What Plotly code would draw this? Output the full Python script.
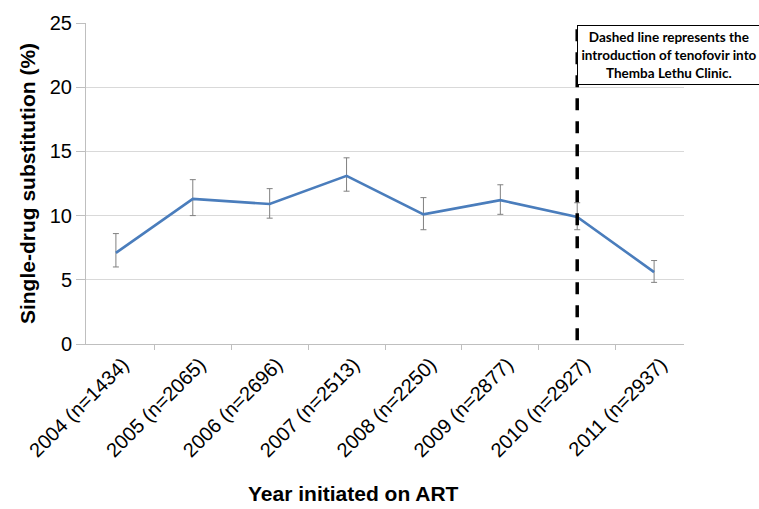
import plotly.graph_objects as go

# Year of ART initiation with cohort size
categories = [
    "2004 (n=1434)", "2005 (n=2065)", "2006 (n=2696)", "2007 (n=2513)",
    "2008 (n=2250)", "2009 (n=2877)", "2010 (n=2927)", "2011 (n=2937)",
]
# Percentage with a single-drug substitution, and its confidence limits
pct = [7.1, 11.3, 10.9, 13.1, 10.1, 11.2, 9.9, 5.6]
ci_upper = [8.6, 12.8, 12.1, 14.5, 11.4, 12.4, 11.0, 6.5]
ci_lower = [6.0, 10.0, 9.8, 11.9, 8.9, 10.1, 8.9, 4.8]

tenofovir_year = "2010 (n=2927)"
y_ticks = [0, 5, 10, 15, 20, 25]

err_plus = [u - v for u, v in zip(ci_upper, pct)]
err_minus = [v - l for v, l in zip(pct, ci_lower)]

fig = go.Figure()
fig.add_trace(go.Scatter(
    x=categories, y=pct, mode="lines",
    line=dict(color="#4a7dbc", width=2.6),
    error_y=dict(type="data", symmetric=False, array=err_plus, arrayminus=err_minus,
                 color="#808080", thickness=1, width=3),
    showlegend=False,
))

# Vertical dashed marker for the tenofovir introduction
fig.add_shape(type="line", xref="x", yref="y",
              x0=tenofovir_year, x1=tenofovir_year, y0=0.3, y1=25,
              line=dict(color="black", width=3.5, dash="12px,11px"), layer="above")

fig.add_annotation(
    xref="paper", yref="paper", x=0.821, y=0.994, xanchor="left", yanchor="top",
    text="Dashed line represents the<br>introduction of tenofovir into<br>Themba Lethu Clinic.",
    showarrow=False, align="center",
    font=dict(family="Lato, Noto Sans, sans-serif", size=13.5, color="black", weight="bold"),
    bordercolor="black", borderwidth=1, borderpad=2, bgcolor="white",
    width=178, height=54,
)

# x-axis title
fig.add_annotation(
    xref="paper", yref="paper", x=0.448, y=-0.466, xanchor="center", yanchor="middle",
    text="<b>Year initiated on ART</b>", showarrow=False,
    font=dict(family="Liberation Sans, Arial, sans-serif", size=21, color="black"),
)

fig.update_layout(
    width=759, height=509,
    margin=dict(l=86, r=75, t=18, b=165),
    plot_bgcolor="white", paper_bgcolor="white",
    font=dict(family="Liberation Sans, Arial, sans-serif", color="black"),
)
fig.update_xaxes(
    type="category", tickson="boundaries", ticks="outside", ticklen=5,
    tickcolor="#bfbfbf", showline=True, linecolor="#bfbfbf", linewidth=1,
    showgrid=False, tickangle=-45, tickfont=dict(size=20), ticklabelshift=7,
)
fig.update_yaxes(
    range=[0, 25], tickvals=y_ticks, ticks="outside", ticklen=9, tickcolor="#bfbfbf",
    showline=True, linecolor="#bfbfbf", linewidth=1,
    showgrid=True, gridcolor="#d9d9d9", gridwidth=1, zeroline=False,
    tickfont=dict(size=20),
    title=dict(text="<b>Single-drug substitution (%)</b>", font=dict(size=21), standoff=8),
)

fig.write_html("out.html")
